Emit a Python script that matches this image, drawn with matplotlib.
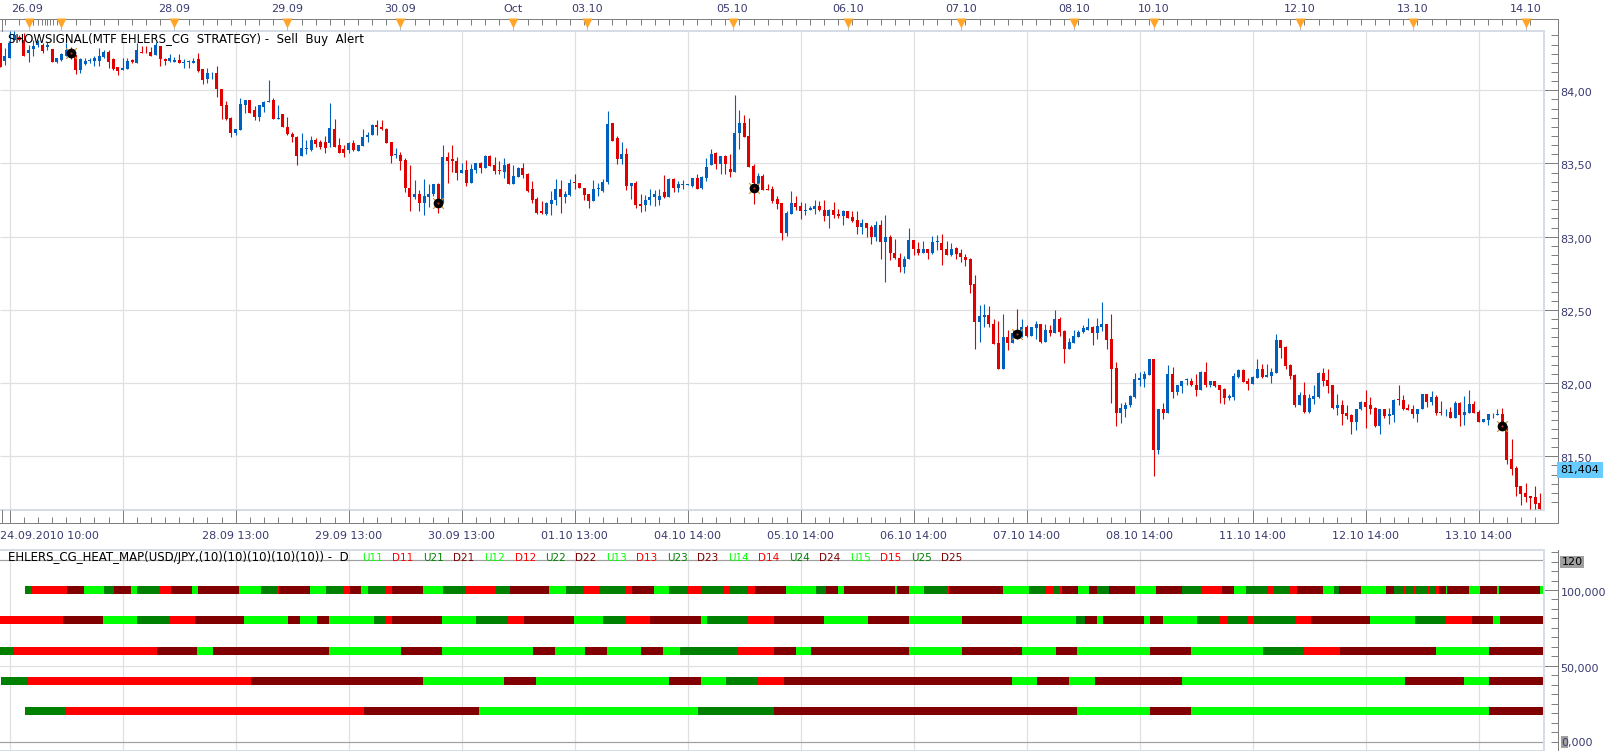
import matplotlib
matplotlib.use("Agg")
import matplotlib.pyplot as plt
import numpy as np
from matplotlib.patches import Rectangle
from matplotlib.ticker import FixedLocator, FuncFormatter, MultipleLocator
from matplotlib.transforms import ScaledTranslation

W, H = 1608, 751
TEXT = "#3A3A70"
AXIS = "#808080"
GRID = "#E0E0E0"
BAND = "#D5DCE6"
UP = "#0060C0"
DOWN = "#E00000"
HEAT = {"U1": "#00FF00", "D1": "#FF0000", "U2": "#008000", "D2": "#800000"}
FONT_PT = 8.05
LEGEND_PT = 8.45
NAME_PT = 7.45

# USD/JPY hourly candles, first bar index is -2
opens = [
    84.322,84.201,84.224,84.345,84.367,84.345,84.253,84.281,84.310,84.310,
    84.299,84.283,84.192,84.208,84.235,84.276,84.242,84.139,84.180,84.201,
    84.203,84.203,84.226,84.260,84.212,84.158,84.139,84.146,84.208,84.185,
    84.265,84.265,84.265,84.242,84.304,84.215,84.203,84.196,84.208,84.185,
    84.196,84.187,84.212,84.144,84.076,84.117,84.117,84.007,83.900,83.809,
    83.706,83.729,83.900,83.934,83.866,83.816,83.889,83.918,83.934,83.804,
    83.836,83.752,83.702,83.683,83.553,83.597,83.592,83.661,83.649,83.649,
    83.638,83.736,83.626,83.597,83.592,83.638,83.588,83.620,83.683,83.695,
    83.763,83.747,83.734,83.649,83.558,
    83.557,83.523,83.336,83.268,83.295,83.231,83.268,83.295,83.359,83.227,
    83.544,83.528,83.516,83.437,83.455,83.368,83.455,83.505,83.471,83.553,
    83.489,83.455,83.439,83.496,83.359,83.409,83.471,83.427,83.323,83.256,
    83.174,83.158,83.222,83.250,83.329,83.272,83.284,83.373,83.364,83.336,
    83.291,83.245,83.323,83.311,83.373,83.774,83.676,83.530,83.564,83.345,
    83.366,83.222,83.215,83.250,83.268,83.250,83.304,83.272,83.391,83.336,
    83.350,83.352,83.348,83.402,83.334,83.398,83.489,83.569,83.496,83.551,
    83.462,83.443,83.706,83.779,83.687,83.482,83.359,83.414,83.329,83.323,
    83.256,83.231,83.028,
    83.155,83.231,83.208,83.176,83.180,83.187,83.208,83.185,83.142,83.180,
    83.153,83.139,83.174,83.135,83.112,83.064,83.091,83.066,82.998,83.078,
    82.964,82.996,82.891,82.857,82.793,82.847,82.975,82.918,82.889,82.914,
    82.889,82.964,82.959,82.914,82.877,82.920,82.886,82.861,82.845,82.674,
    82.414,82.451,82.462,82.407,82.271,82.093,82.312,82.273,82.348,82.319,
    82.380,82.321,82.373,82.401,82.278,82.366,82.339,82.435,82.353,82.236,
    82.271,82.312,82.346,82.366,82.380,82.339,82.380,82.401,82.298,82.100,
    81.799,81.826,81.847,81.908,82.024,82.031,82.052,82.168,81.546,81.826,
    81.799,
    82.064,81.942,81.982,82.018,82.016,81.989,81.955,82.077,81.989,82.016,
    81.989,81.962,81.901,81.908,82.043,82.091,82.016,81.996,82.036,82.098,
    82.043,82.050,82.070,82.294,82.247,82.125,82.057,81.853,81.921,81.806,
    81.894,81.908,82.070,82.023,81.989,81.833,81.847,81.799,81.779,81.731,
    81.820,81.874,81.847,81.833,81.704,81.820,81.772,81.779,81.894,81.887,
    81.833,81.820,81.792,81.820,81.928,81.874,81.908,81.806,81.801,81.806,
    81.765,81.867,81.779,81.799,81.860,81.806,81.731,81.745,81.779,81.779,
    81.792,81.704,81.481,81.420,81.297,81.250,81.230,81.223,81.182,
]
highs = [
    84.322,84.288,84.402,84.402,84.379,84.390,84.310,84.345,84.345,84.322,
    84.333,84.283,84.219,84.253,84.322,84.299,84.242,84.219,84.219,84.219,
    84.231,84.288,84.272,84.276,84.219,84.162,84.219,84.219,84.212,84.322,
    84.304,84.304,84.299,84.333,84.304,84.219,84.249,84.226,84.249,84.212,
    84.208,84.219,84.253,84.144,84.151,84.123,84.167,84.007,83.930,83.816,
    83.736,83.950,83.934,83.934,83.893,83.900,83.930,84.071,83.946,83.900,
    83.836,83.816,83.718,83.688,83.706,83.661,83.688,83.672,83.661,83.688,
    83.911,83.802,83.672,83.626,83.649,83.661,83.626,83.736,83.718,83.770,
    83.797,83.797,83.740,83.649,83.604,
    83.576,83.535,83.489,83.386,83.318,83.393,83.359,83.359,83.364,83.626,
    83.580,83.626,83.546,83.500,83.523,83.496,83.500,83.512,83.557,83.557,
    83.546,83.519,83.535,83.500,83.489,83.473,83.500,83.432,83.380,83.272,
    83.245,83.234,83.311,83.393,83.386,83.311,83.393,83.427,83.364,83.336,
    83.291,83.386,83.364,83.391,83.858,83.779,83.687,83.649,83.603,83.364,
    83.382,83.295,83.284,83.325,83.318,83.329,83.421,83.398,83.398,83.382,
    83.386,83.357,83.402,83.427,83.414,83.535,83.596,83.576,83.553,83.557,
    83.562,83.968,83.865,83.831,83.808,83.496,83.437,83.427,83.359,83.345,
    83.277,83.231,83.174,
    83.310,83.276,83.235,83.231,83.208,83.249,83.242,83.249,83.187,83.235,
    83.187,83.185,83.174,83.174,83.174,83.123,83.091,83.078,83.105,83.112,
    83.146,83.009,82.987,82.891,82.866,83.057,82.980,82.964,82.968,82.918,
    83.003,83.009,83.016,82.968,82.957,82.927,82.914,82.879,82.857,82.736,
    82.531,82.542,82.524,82.435,82.421,82.469,82.360,82.360,82.503,82.435,
    82.394,82.380,82.421,82.401,82.401,82.394,82.496,82.449,82.366,82.307,
    82.360,82.366,82.394,82.448,82.387,82.448,82.551,82.401,82.469,82.141,
    81.867,81.874,81.922,82.072,82.079,82.086,82.168,82.168,81.826,81.867,
    82.127,
    82.111,81.989,82.016,82.037,82.037,82.064,82.084,82.145,82.016,82.016,
    81.989,81.969,81.928,82.070,82.098,82.098,82.036,82.050,82.165,82.131,
    82.131,82.104,82.335,82.294,82.253,82.131,82.064,81.942,82.009,81.928,
    81.989,82.077,82.104,82.098,81.989,81.928,81.887,81.847,81.786,81.826,
    81.881,81.955,81.908,81.840,81.826,81.820,81.833,81.894,81.989,81.921,
    81.860,81.847,81.826,81.928,81.928,81.948,81.921,81.881,81.820,81.840,
    81.881,81.874,81.914,81.955,81.881,81.813,81.752,81.792,81.799,81.826,
    81.833,81.704,81.616,81.433,81.297,81.318,81.230,81.297,81.250,
]
lows = [
    84.162,84.174,84.219,84.345,84.340,84.235,84.190,84.231,84.299,84.253,
    84.276,84.196,84.185,84.203,84.231,84.215,84.114,84.121,84.174,84.185,
    84.167,84.169,84.219,84.151,84.139,84.105,84.139,84.144,84.185,84.185,
    84.253,84.253,84.231,84.242,84.169,84.174,84.196,84.190,84.185,84.151,
    84.151,84.185,84.128,84.044,84.048,84.076,83.957,83.804,83.797,83.683,
    83.695,83.729,83.843,83.843,83.797,83.793,83.854,83.918,83.804,83.804,
    83.752,83.695,83.649,83.490,83.551,83.565,83.588,83.615,83.599,83.574,
    83.615,83.610,83.569,83.547,83.574,83.588,83.588,83.620,83.649,83.695,
    83.695,83.729,83.638,83.501,83.540,
    83.455,83.307,83.177,83.256,83.177,83.147,83.204,83.279,83.163,83.227,
    83.368,83.443,83.386,83.437,83.348,83.368,83.432,83.432,83.471,83.482,
    83.427,83.427,83.398,83.359,83.359,83.405,83.398,83.307,83.227,83.154,
    83.154,83.147,83.147,83.215,83.163,83.227,83.277,83.329,83.334,83.250,
    83.197,83.245,83.277,83.307,83.359,83.655,83.496,83.496,83.318,83.256,
    83.193,83.170,83.177,83.215,83.211,83.215,83.261,83.268,83.302,83.307,
    83.323,83.352,83.341,83.325,83.329,83.382,83.489,83.462,83.427,83.427,
    83.409,83.443,83.596,83.678,83.473,83.222,83.336,83.318,83.318,83.231,
    83.186,82.976,83.006,
    83.153,83.180,83.119,83.146,83.180,83.153,83.174,83.105,83.057,83.128,
    83.128,83.078,83.128,83.101,83.021,83.016,82.998,82.948,82.971,82.850,
    82.690,82.838,82.845,82.759,82.752,82.845,82.873,82.873,82.889,82.845,
    82.884,82.907,82.804,82.873,82.868,82.850,82.827,82.800,82.615,82.230,
    82.284,82.382,82.382,82.264,82.093,82.093,82.223,82.271,82.303,82.314,
    82.314,82.321,82.298,82.273,82.278,82.325,82.339,82.325,82.134,82.236,
    82.271,82.312,82.341,82.360,82.257,82.298,82.353,82.236,81.867,81.710,
    81.730,81.771,81.835,81.901,81.977,81.970,82.052,81.368,81.518,81.758,
    81.799,
    81.901,81.921,81.935,81.989,81.980,81.914,81.955,81.976,81.976,81.976,
    81.867,81.860,81.887,81.887,82.036,82.009,81.955,81.996,82.036,82.036,
    82.043,82.003,82.070,82.172,82.098,82.030,81.840,81.853,81.799,81.799,
    81.860,81.901,81.982,81.935,81.826,81.779,81.711,81.752,81.650,81.677,
    81.813,81.691,81.792,81.698,81.650,81.759,81.718,81.731,81.847,81.813,
    81.813,81.759,81.731,81.820,81.840,81.847,81.779,81.779,81.772,81.759,
    81.759,81.704,81.711,81.799,81.799,81.731,81.731,81.711,81.765,81.779,
    81.704,81.447,81.372,81.230,81.169,81.189,81.142,81.142,81.142,
]
closes = [
    84.162,84.231,84.322,84.379,84.345,84.235,84.276,84.306,84.333,84.270,
    84.310,84.196,84.219,84.249,84.276,84.219,84.139,84.212,84.203,84.208,
    84.219,84.235,84.260,84.196,84.144,84.135,84.151,84.201,84.196,84.276,
    84.258,84.260,84.235,84.310,84.212,84.203,84.219,84.208,84.185,84.196,
    84.201,84.201,84.135,84.071,84.121,84.121,84.007,83.893,83.802,83.706,
    83.736,83.905,83.934,83.848,83.820,83.900,83.923,83.930,83.804,83.809,
    83.752,83.699,83.679,83.551,83.604,83.608,83.661,83.631,83.615,83.604,
    83.740,83.615,83.574,83.569,83.638,83.592,83.626,83.679,83.695,83.763,
    83.747,83.736,83.638,83.551,83.563,
    83.516,83.334,83.272,83.295,83.227,83.277,83.295,83.359,83.215,83.541,
    83.516,83.516,83.437,83.455,83.368,83.462,83.500,83.471,83.553,83.484,
    83.448,83.448,83.489,83.359,83.414,83.471,83.421,83.311,83.250,83.165,
    83.161,83.227,83.254,83.329,83.272,83.291,83.370,83.364,83.334,83.284,
    83.245,83.325,83.332,83.375,83.769,83.655,83.530,83.564,83.345,83.364,
    83.215,83.209,83.250,83.272,83.295,83.277,83.268,83.391,83.334,83.359,
    83.359,83.357,83.398,83.329,83.409,83.473,83.564,83.496,83.553,83.496,
    83.441,83.706,83.779,83.683,83.478,83.364,83.414,83.318,83.318,83.245,
    83.222,83.028,83.163,
    83.228,83.201,83.174,83.185,83.196,83.208,83.180,83.142,83.180,83.146,
    83.144,83.174,83.128,83.105,83.066,83.091,83.057,82.998,83.078,82.964,
    82.998,82.889,82.854,82.793,82.850,82.975,82.916,82.889,82.914,82.889,
    82.964,82.968,82.907,82.875,82.918,82.884,82.861,82.838,82.667,82.414,
    82.455,82.462,82.401,82.264,82.093,82.312,82.271,82.341,82.309,82.380,
    82.319,82.380,82.401,82.278,82.366,82.339,82.435,82.346,82.236,82.278,
    82.319,82.350,82.373,82.380,82.339,82.387,82.401,82.291,82.093,81.799,
    81.833,81.853,81.915,82.031,82.038,82.059,82.168,81.546,81.826,81.799,
    82.065,
    81.942,81.989,82.016,82.025,81.987,81.955,82.077,81.989,82.016,81.982,
    81.955,81.901,81.915,82.050,82.091,82.009,81.996,82.043,82.098,82.043,
    82.057,82.077,82.294,82.240,82.118,82.050,81.853,81.921,81.806,81.901,
    81.914,82.070,82.016,81.982,81.833,81.847,81.792,81.772,81.731,81.826,
    81.874,81.840,81.826,81.704,81.820,81.772,81.786,81.887,81.887,81.826,
    81.813,81.792,81.826,81.928,81.874,81.908,81.799,81.799,81.806,81.765,
    81.867,81.779,81.806,81.860,81.799,81.731,81.752,81.786,81.783,81.786,
    81.704,81.474,81.413,81.291,81.243,81.223,81.216,81.176,81.142,
]

# Signals from the strategy overlay
signal_bars = [13, 91, 158, 214, 317]
signal_prices = [84.255, 83.232, 83.335, 82.335, 81.707]
current_price = 81.404

price_ticks = [84.0, 83.5, 83.0, 82.5, 82.0, 81.5]

# Calendar ruler along the top edge
day_bars = [4, 11, 35, 59, 83, 107, 122.7, 153.6, 178, 202, 226, 243, 274, 298, 322]
day_label_bars = [3.7, 35, 59, 83, 107, 122.7, 153.5, 178, 202, 226, 243, 274, 298, 322]
day_labels = ["26.09", "28.09", "29.09", "30.09", "Oct", "03.10", "05.10", "06.10",
              "07.10", "08.10", "10.10", "12.10", "13.10", "14.10"]
extra_ruler_bars = [5, 6, 6.8, 7.4, 8, 8.6, 9.2, 10]

# Time axis between the panes
time_bars = [0, 48, 72, 96, 120, 144, 168, 192, 216, 240, 264, 288, 312]
time_labels = ["24.09.2010 10:00", "28.09 13:00", "29.09 13:00", "30.09 13:00", "01.10 13:00",
               "04.10 14:00", "05.10 14:00", "06.10 14:00", "07.10 14:00", "08.10 14:00",
               "11.10 14:00", "12.10 14:00", "13.10 14:00"]

# Heat map rows: level, then the bar where each state begins
row_levels = [100000, 80000, 60000, 40000, 20000]
row_end_bar = 325.7
row1_starts = [3.2,4.7,12.2,15.7,20.1,22.2,25.7,27.1,31.7,34.3,38.7,40.1,48.6,53.3,56.8,57.2,63.8,67.1,
               70.8,72.3,74.7,76.1,79.7,81.2,87.7,92.1,96.7,103.1,106.1,106.3,114.6,118.2,121.9,125.2,
               130.7,132.1,136.8,140.0,143.9,147.1,151.7,153.1,156.8,158.2,164.8,171.3,173.3,175.9,
               177.3,188.1,188.4,191.0,194.3,199.0,199.5,210.9,216.4,219.9,221.5,223.1,223.5,226.9,
               229.3,231.0,233.4,239.0,243.4,249.0,253.0,257.5,260.0,262.5,267.1,268.5,272.0,273.5,
               278.9,281.3,282.3,287.0,292.3,294.0,296.0,296.4,298.2,298.5,301.2,301.5,303.0,303.5,
               305.0,305.3,310.0,312.4,316.0,316.4,325.0]
row1_states = ["U2","D1","D2","U1","U2","D2","U1","U2","D1","D2","U1","D2","U1","U2","D1","D2","U1","U2",
               "D1","D2","U1","U2","D1","D2","U1","U2","D1","U2","D1","D2","U1","U2","D1","U2",
               "D1","D2","U1","U2","D1","U2","D1","U2","D1","D2","U1","U2","D2","U1",
               "D2","U1","D2","U1","U2","D1","D2","U1","U2","D1","U2","D1","D2","U1",
               "D2","U2","D2","U1","D2","U2","D1","D2","U1","U2","D1","U2","D1","D2",
               "U1","U2","D2","U1","D2","U2","D1","U2","D1","U2","D1","U2","D1","D2",
               "U1","D2","U1","D2","U1","D2","U1"]
row2_starts = [-2.1,11.3,19.8,27.1,33.8,39.3,49.8,59.1,61.7,65.2,67.8,77.3,79.7,81.2,91.8,99.0,105.8,109.2,
               119.8,126.1,130.8,136.1,146.8,148.2,156.8,162.4,172.9,182.3,191.0,202.3,215.0,226.4,
               228.3,231.0,232.3,240.9,242.3,245.0,252.2,257.1,258.5,263.1,264.4,273.0,276.4,288.9,
               298.4,305.1,310.6,315.1,316.5]
row2_states = ["D1","D2","U1","U2","D1","D2","U1","D2","U1","D2","U1","U2","D1","D2","U1","U2","D1","D2",
               "U1","U2","D1","D2","U1","U2","D1","D2","U1","D2","U1","D2","U1","U2",
               "D2","U1","D2","U1","D2","U1","U2","D1","U2","D1","U2","D1","D2","U1",
               "U2","D1","D2","U1","D2"]
row3_starts = [-2.1,0.7,31.3,39.7,43.1,67.8,83.1,91.8,111.2,115.8,122.1,126.9,134.1,138.8,142.3,154.7,
               162.4,167.0,170.3,191.0,202.3,215.0,222.2,226.8,242.3,250.9,266.3,274.9,282.6,303.0,314.3]
row3_states = ["U2","D1","D2","U1","D2","U1","D2","U1","D2","U1","D2","U1","D2","U1","U2","D1",
               "D2","U1","D2","U1","D2","U1","D2","U1","D2","U1","U2","D1","D2","U1","D2"]
row4_starts = [-1.8,3.7,51.2,87.7,105.0,111.7,140.1,146.8,152.2,158.8,164.5,212.9,218.2,224.9,230.5,
               249.0,296.4,308.8,314.3]
row4_states = ["U2","D1","D2","U1","D2","U1","D2","U1","U2","D1","D2","U1","D2","U1","D2",
               "U1","D2","U1","D2"]
row5_starts = [3.2,11.8,75.3,99.6,146.1,162.4,226.8,242.3,250.9,314.3]
row5_states = ["U2","D1","D2","U1","U2","D2","U1","D2","U1","D2"]

legend_names = ["U11","D11","U21","D21","U12","D12","U22","D22","U13","D13",
                "U23","D23","U14","D14","U24","D24","U15","D15","U25","D25"]


def px_axes(fig, left, top, right, bottom):
    """Axes rectangle given in image pixels, measured from the top left."""
    return fig.add_axes([left / W, 1 - bottom / H, (right - left) / W, (bottom - top) / H])


BAR_X0, BAR_DX = 9.7, 4.708  # pixel of bar 0 and pixels per bar


def bar_limits(left_px, right_px):
    return (left_px - BAR_X0) / BAR_DX, (right_px - BAR_X0) / BAR_DX


plt.rcParams["font.family"] = ["DejaVu Sans"]
plt.rcParams["font.size"] = FONT_PT

fig = plt.figure(figsize=(W / 100, H / 100), dpi=100, facecolor="white")
px = 0.72  # one pixel in points

price_ax = px_axes(fig, 0, 30.5, 1544, 509.5)
heat_ax = px_axes(fig, 0, 550, 1544, 751)
top_ruler = px_axes(fig, 0, 18.7, 1558, 30.5)
time_ruler = px_axes(fig, 0, 509.5, 1558, 522.5)

grid_bars = np.arange(0, 326, 24)

# --- price pane ---
price_ax.set_xlim(*bar_limits(0, 1544))
price_ax.set_ylim(84 - (509.5 - 90.3) / 146.4, 84 + (90.3 - 30.5) / 146.4)
price_ax.set_xticks([])
price_ax.vlines(grid_bars, 0, 1, transform=price_ax.get_xaxis_transform(),
                color=GRID, lw=1.2 * px, zorder=1)
price_ax.hlines(price_ticks, 0, 1, transform=price_ax.get_yaxis_transform(),
                color=GRID, lw=1.2 * px, zorder=1)

o, h, l, c = map(np.array, (opens, highs, lows, closes))
bars = np.arange(len(o)) - 2
colors = np.where(c >= o, UP, DOWN)
price_ax.vlines(bars, l, h, colors=colors, lw=1.1 * px, zorder=3)
price_ax.bar(bars, np.abs(c - o), bottom=np.minimum(o, c), width=3 / BAR_DX,
             color=colors, linewidth=0, antialiased=False, zorder=4)

# Strategy signals: a dark disc over an orange cross, with a small red core
price_ax.scatter(signal_bars, signal_prices, marker="x", s=60, color="#D89030", lw=0.8, zorder=5)
price_ax.scatter(signal_bars, signal_prices, marker="o", s=36, color="black", zorder=6)
price_ax.scatter(signal_bars, signal_prices, marker="o", s=2.5, color="#C03030", linewidths=0, zorder=7)

price_ax.text(8 / 1544, 1 - 8.5 / 479, "SHOWSIGNAL(MTF EHLERS_CG  STRATEGY) -  Sell  Buy  Alert",
              transform=price_ax.transAxes, va="center", ha="left", color="black",
              fontsize=LEGEND_PT, zorder=8)

for side in ("left", "top", "bottom"):
    price_ax.spines[side].set_visible(False)
price_ax.spines["right"].set_position(("outward", 14 * px))
price_ax.spines["right"].set_color(AXIS)
price_ax.spines["right"].set_linewidth(px)
price_ax.yaxis.tick_right()
price_ax.yaxis.set_major_locator(FixedLocator(price_ticks))
price_ax.yaxis.set_minor_locator(MultipleLocator(0.0625))
price_ax.yaxis.set_major_formatter(FuncFormatter(lambda v, _: f"{v:.2f}".replace(".", ",")))
price_ax.tick_params(axis="y", which="major", direction="in", length=14 * px, width=px,
                     color=AXIS, labelcolor=TEXT, labelsize=FONT_PT, pad=2.5 * px)
price_ax.tick_params(axis="y", which="minor", direction="in", length=7 * px, width=px, color=AXIS)
down_2px = ScaledTranslation(0, -2 / 100, fig.dpi_scale_trans)
for lab in price_ax.get_yticklabels():
    lab.set_transform(lab.get_transform() + down_2px)
# The frame runs past the left edge of the image, so only three sides show
price_ax.add_patch(Rectangle((-0.01, 0), 1.01, 1, transform=price_ax.transAxes, fill=False,
                             edgecolor=BAND, lw=2 * px, clip_on=False, zorder=2))

# Live price flag
price_ax.annotate("81,404", xy=(1, current_price), xycoords=price_ax.get_yaxis_transform(),
                  xytext=(16.5 * px, 0), textcoords="offset points", va="center", ha="left",
                  color="black", fontsize=FONT_PT, annotation_clip=False, zorder=9,
                  bbox=dict(boxstyle="square,pad=0.28", fc="#66CCFF", ec="none"))

# --- heat map pane ---
heat_ax.set_xlim(*bar_limits(0, 1544))
heat_ax.set_ylim(-(751 - 741.7) / 1.517 * 1000, (741.7 - 550) / 1.517 * 1000)
heat_ax.set_xticks([])
heat_ax.vlines(grid_bars, 0, 1, transform=heat_ax.get_xaxis_transform(),
               color=GRID, lw=1.2 * px, zorder=1)
heat_ax.axhline(50000, color=GRID, lw=1.2 * px, zorder=1)
heat_ax.axhline(120000, color="#A0A0A0", lw=1.2 * px, zorder=2)
heat_ax.axhline(0, color="#A0A0A0", lw=1.2 * px, zorder=2)

rows = [(row1_starts, row1_states), (row2_starts, row2_states), (row3_starts, row3_states),
        (row4_starts, row4_states), (row5_starts, row5_states)]
row_height = 8 / 1.517 * 1000
for level, (starts, states) in zip(row_levels, rows):
    ends = starts[1:] + [row_end_bar]
    for s, e, state in zip(starts, ends, states):
        heat_ax.broken_barh([(s, e - s)], (level - row_height / 2, row_height),
                            facecolors=HEAT[state], linewidth=0, antialiased=False, zorder=3)

heat_ax.text(8 / 1544, 1 - 8 / 201, "EHLERS_CG_HEAT_MAP(USD/JPY,(10)(10)(10)(10)(10)) -  D",
             transform=heat_ax.transAxes, va="center", ha="left", color="black",
             fontsize=LEGEND_PT, zorder=8)
for i, name in enumerate(legend_names):
    heat_ax.text((362 + 30.5 * i) / 1544, 1 - 8 / 201, name, transform=heat_ax.transAxes,
                 va="center", ha="left", color=HEAT[name[:2]], fontsize=NAME_PT, zorder=8)

for side in ("left", "top", "bottom"):
    heat_ax.spines[side].set_visible(False)
heat_ax.spines["right"].set_position(("outward", 14 * px))
heat_ax.spines["right"].set_color(AXIS)
heat_ax.spines["right"].set_linewidth(px)
heat_ax.yaxis.tick_right()
heat_ax.yaxis.set_major_locator(FixedLocator([100000, 50000]))
heat_ax.yaxis.set_minor_locator(MultipleLocator(6250))
heat_ax.yaxis.set_major_formatter(FuncFormatter(lambda v, _: f"{int(v / 1000)},000"))
heat_ax.tick_params(axis="y", which="major", direction="in", length=14 * px, width=px,
                    color=AXIS, labelcolor=TEXT, labelsize=FONT_PT, pad=2.5 * px)
heat_ax.tick_params(axis="y", which="minor", direction="in", length=7 * px, width=px, color=AXIS)
for lab in heat_ax.get_yticklabels():
    lab.set_transform(lab.get_transform() + down_2px)
heat_ax.add_patch(Rectangle((-0.01, 0), 1.01, 1.5, transform=heat_ax.transAxes, fill=False,
                            edgecolor="none", clip_on=False, zorder=2))
heat_ax.add_patch(Rectangle((-0.01, 0), 1.01, 1, transform=heat_ax.transAxes, fill=False,
                            edgecolor=BAND, lw=2 * px, clip_on=False, zorder=2))

side_tf = heat_ax.get_yaxis_transform()
heat_ax.annotate("120", xy=(1, 120000), xycoords=side_tf, xytext=(17.5 * px, -2 * px),
                 textcoords="offset points", va="center", ha="left", color="black",
                 fontsize=FONT_PT, annotation_clip=False, zorder=9,
                 bbox=dict(boxstyle="square,pad=0.1", fc="#A0A0A0", ec="none"))
heat_ax.add_patch(Rectangle((1 + 17.5 / 1544, -4100), 6.5 / 1544, 7860, transform=side_tf,
                            facecolor="#A0A0A0", edgecolor="none", clip_on=False, zorder=9))
heat_ax.annotate("0,000", xy=(1, 0), xycoords=side_tf, xytext=(17.5 * px, -1 * px),
                 textcoords="offset points", va="center", ha="left", color=TEXT,
                 fontsize=FONT_PT, annotation_clip=False, zorder=10)

# --- rulers ---
for ax in (top_ruler, time_ruler):
    ax.set_xlim(*bar_limits(0, 1558))
    ax.set_ylim(0, 1)
    ax.set_yticks([])
    ax.patch.set_alpha(0)
    for side in ("top", "bottom"):
        ax.spines[side].set_visible(False)
    for side in ("left", "right"):
        ax.spines[side].set_color(AXIS)
        ax.spines[side].set_linewidth(px)
    ax.spines["left"].set_position(("outward", -1.5 * px))

top_ruler.spines["top"].set_visible(True)
top_ruler.spines["top"].set_color(AXIS)
top_ruler.spines["top"].set_linewidth(px)
top_ruler.xaxis.tick_top()
top_ruler.set_xticks(list(np.arange(-1, 326, 3)) + extra_ruler_bars)
top_ruler.set_xticklabels([])
top_ruler.tick_params(axis="x", direction="in", length=6 * px, width=px, color=AXIS)
top_ruler.vlines(day_bars, 0, 1, color="#B8C4D4", lw=px, zorder=1)
top_ruler.scatter(day_bars, [0.6] * len(day_bars), marker="v", s=52, color="#FFA52A",
                  linewidths=0, clip_on=False, zorder=5)
for bar, label in zip(day_label_bars, day_labels):
    top_ruler.text(bar, 1 + 10 / 11.8, label, ha="center", va="center", color=TEXT, fontsize=FONT_PT)

time_ruler.spines["bottom"].set_visible(True)
time_ruler.spines["bottom"].set_color(AXIS)
time_ruler.spines["bottom"].set_linewidth(px)
time_ruler.set_xticks(grid_bars)
minor_bars = np.arange(0, 326, 3)
time_ruler.set_xticks(minor_bars[minor_bars % 24 != 0], minor=True)
time_ruler.set_xticklabels([])
time_ruler.tick_params(axis="x", which="major", direction="in", length=13 * px, width=px, color=AXIS)
time_ruler.tick_params(axis="x", which="minor", direction="in", length=6 * px, width=px, color=AXIS)
for bar, label in zip(time_bars, time_labels):
    if bar == 0:
        time_ruler.text(0.5 / 1558, -13.5 / 13, label, transform=time_ruler.transAxes,
                        ha="left", va="center", color=TEXT, fontsize=FONT_PT)
    else:
        time_ruler.text(bar, -13.5 / 13, label, ha="center", va="center", color=TEXT, fontsize=FONT_PT)

fig.savefig("out.png", dpi=100, facecolor="white")
